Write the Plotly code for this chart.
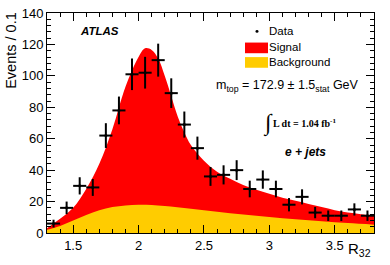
import numpy as np
import plotly.graph_objects as go

# Data points (bin centres, events per 0.1)
data_x = [1.35, 1.45, 1.55, 1.65, 1.75, 1.85, 1.95, 2.05, 2.15, 2.25, 2.35, 2.45, 2.55,
          2.65, 2.75, 2.85, 2.95, 3.05, 3.15, 3.25, 3.35, 3.45, 3.55, 3.65, 3.75]
data_y = [6, 16, 30, 29, 62, 78, 101, 102, 110, 89, 69, 54, 36,
          37, 40, 28, 34, 28, 18, 23, 13, 11, 11, 15, 11]

# Signal + background (stacked total) template
total_x = [1.3, 1.4, 1.5, 1.6, 1.7, 1.8, 1.9, 2.0, 2.05, 2.1, 2.15, 2.2, 2.25, 2.3, 2.35,
           2.4, 2.5, 2.6, 2.7, 2.8, 2.9, 3.0, 3.1, 3.2, 3.3, 3.4, 3.5, 3.6, 3.7, 3.8]
total_y = [3, 9, 16, 28, 44, 66, 93, 112, 117.5, 116.5, 111, 100, 87, 74, 64,
           56, 46, 39, 34.5, 30.5, 27.5, 25, 22.5, 20.5, 18.5, 16.5, 14.5, 13, 12, 11]

# Background template
bg_x = [1.3, 1.4, 1.5, 1.6, 1.7, 1.8, 1.9, 2.0, 2.1, 2.2, 2.4, 2.6, 2.8, 3.0, 3.2, 3.4, 3.6, 3.8]
bg_y = [2, 4.5, 8, 11.5, 14.5, 16.5, 17.5, 18, 17.8, 17.2, 15.5, 13.5, 11.8, 10.2, 8.8, 7.5, 6.3, 5.3]

bin_half = 0.05
err_y = list(np.sqrt(np.array(data_y, dtype=float)))

FONT = "Liberation Sans, Arial, Helvetica, sans-serif"
SERIF = "Liberation Serif, Times New Roman, serif"

fig = go.Figure()
fig.add_trace(go.Scatter(x=total_x, y=total_y, mode="lines", line=dict(width=0, shape="spline"),
                         fill="tozeroy", fillcolor="#FF0000", name="Signal", showlegend=False,
                         hoverinfo="skip"))
fig.add_trace(go.Scatter(x=bg_x, y=bg_y, mode="lines", line=dict(width=0, shape="spline"),
                         fill="tozeroy", fillcolor="#FFCC00", name="Background", showlegend=False,
                         hoverinfo="skip"))
fig.add_trace(go.Scatter(x=data_x, y=data_y, mode="markers",
                         marker=dict(color="black", size=3),
                         error_x=dict(type="constant", value=bin_half, width=0, thickness=2, color="black"),
                         error_y=dict(type="data", array=err_y, width=0, thickness=2, color="black"),
                         name="Data", showlegend=False))

axis_common = dict(showline=True, linecolor="black", linewidth=1, mirror="ticks",
                   ticks="inside", ticklen=8, tickwidth=1, tickcolor="black",
                   showgrid=False, zeroline=False, ticklabeloverflow="allow",
                   tickfont=dict(family=FONT, size=13, color="black"))

fig.update_xaxes(range=[1.3, 3.8], dtick=0.5, tick0=1.5,
                 minor=dict(dtick=0.1, ticklen=4, ticks="inside", tickcolor="black", showgrid=False),
                 **axis_common)
fig.update_yaxes(range=[0, 140], dtick=20,
                 minor=dict(dtick=4, ticklen=4, ticks="inside", tickcolor="black", showgrid=False),
                 **axis_common)

W, H = 390, 265
ml, mr, mt, mb = 47, 16, 6, 32

def px(x):
    return (x - ml) / (W - ml - mr)

def py(y):
    return 1 - (y - mt) / (H - mt - mb)

def txt(text, x, y, size, family=FONT, xanchor="left", angle=0):
    return dict(text=text, x=px(x), y=py(y), xref="paper", yref="paper", textangle=angle,
                xanchor=xanchor, yanchor="middle", showarrow=False,
                font=dict(family=family, size=size, color="black"))

annotations = [
    txt("Events / 0.1", 11, 45, 14.5, xanchor="center", angle=-90),
    txt("R<sub>32</sub>", 373, 250, 15, xanchor="right"),
    txt("<b><i>ATLAS</i></b>", 78, 25, 11.5),
    txt("Data", 267, 25, 11.5),
    txt("Signal", 267, 41.5, 11.5),
    txt("Background", 267, 57, 11.5),
    txt("m<sub>top</sub> = 172.9 ± 1.5<sub>stat</sub> GeV", 214, 81, 12.5),
    txt("∫", 261, 120, 23, family=SERIF),
    txt("<b>L dt = 1.04 fb<sup>-1</sup></b>", 271, 119, 10, family=SERIF),
    txt("<b><i>e + jets</i></b>", 283, 149, 12),
]

shapes = [
    dict(type="rect", xref="paper", yref="paper", x0=px(245), x1=px(268), y0=py(36.5), y1=py(47.5),
         fillcolor="#FF0000", line=dict(width=0)),
    dict(type="rect", xref="paper", yref="paper", x0=px(245), x1=px(268), y0=py(51.5), y1=py(62.5),
         fillcolor="#FFCC00", line=dict(width=0)),
    dict(type="circle", xref="paper", yref="paper", x0=px(255.5), x1=px(258.5), y0=py(23.5), y1=py(26.5),
         fillcolor="black", line=dict(width=0)),
]

fig.update_layout(width=W, height=H, margin=dict(l=ml, r=mr, t=mt, b=mb),
                  paper_bgcolor="white", plot_bgcolor="white",
                  showlegend=False, annotations=annotations, shapes=shapes)

fig.write_html("out.html", config={"displayModeBar": False},
               post_script="document.body.style.margin='0';")
